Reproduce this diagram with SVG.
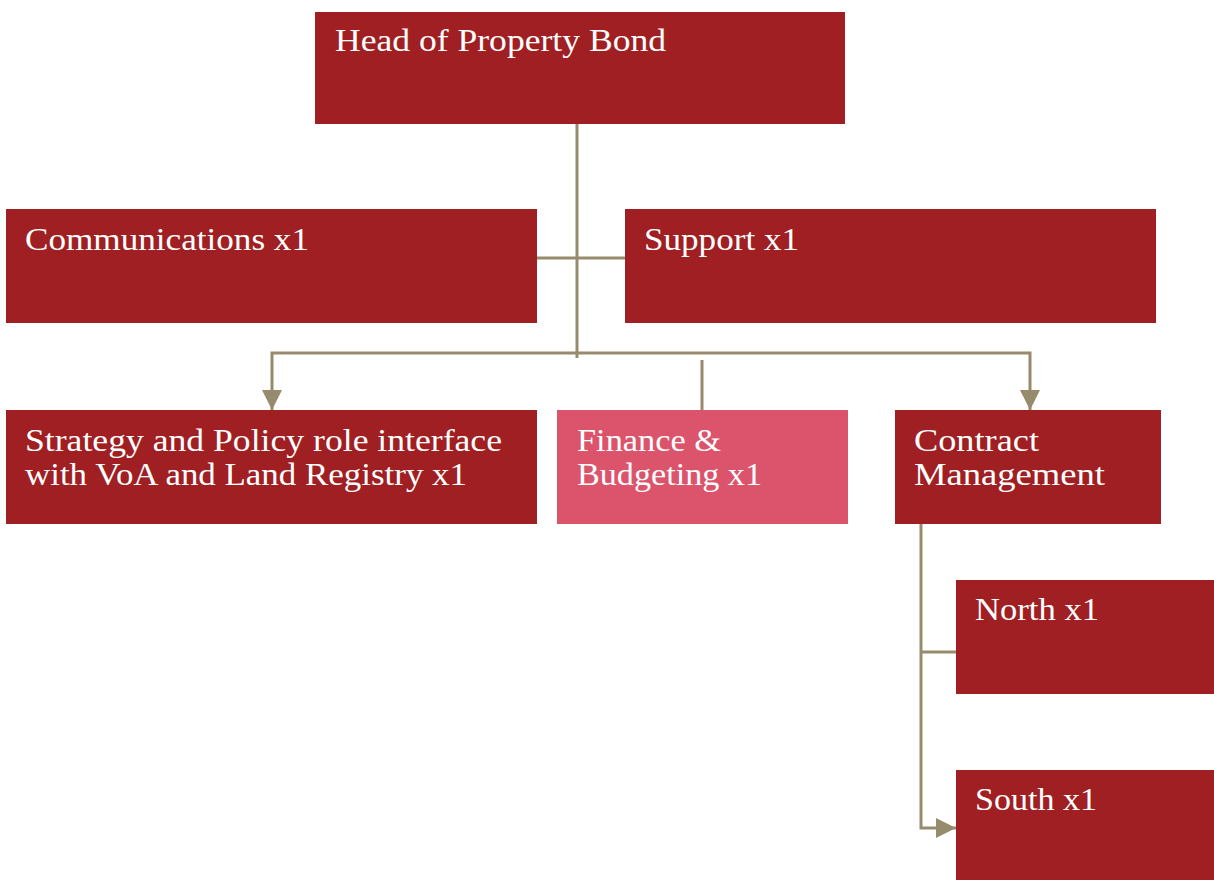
<svg xmlns="http://www.w3.org/2000/svg" width="1214" height="880" viewBox="0 0 1214 880">
  <defs>
    <style>
      .box { fill: #A01F22; }
      .box.alt { fill: #DB546B; }
      .lbl { font-family: "Liberation Serif", "DejaVu Serif", serif; font-size: 31px; fill: #FFFFFF; }
      .wire { fill: none; stroke: #968B6D; stroke-width: 3; }
    </style>
    <marker id="arrow" viewBox="0 0 10 10" refX="10" refY="5" markerWidth="6" markerHeight="6" markerUnits="userSpaceOnUse" orient="auto">
      <path d="M0,0 L10,5 L0,10 Z" fill="#968B6D"/>
    </marker>
    <marker id="arrowBig" viewBox="0 0 10 10" refX="10" refY="5" markerWidth="20" markerHeight="20" markerUnits="userSpaceOnUse" orient="auto">
      <path d="M0,0 L10,5 L0,10 Z" fill="#968B6D"/>
    </marker>
  </defs>

  <g id="connectors">
    <line class="wire" x1="577" y1="124" x2="577" y2="358"/>
    <line class="wire" x1="537" y1="258" x2="625" y2="258"/>
    <path class="wire" d="M577,353 H272 V410" marker-end="url(#arrowBig)"/>
    <path class="wire" d="M577,353 H1030 V410" marker-end="url(#arrowBig)"/>
    <line class="wire" x1="702" y1="360" x2="702" y2="410"/>
    <path class="wire" d="M921,524 V828 H956" marker-end="url(#arrowBig)"/>
    <line class="wire" x1="921" y1="652" x2="956" y2="652"/>
  </g>

  <g id="head">
    <rect class="box" x="315" y="12" width="530" height="112"/>
    <text class="lbl" x="335" y="51" textLength="331" lengthAdjust="spacingAndGlyphs">Head of Property Bond</text>
  </g>

  <g id="communications">
    <rect class="box" x="6" y="209" width="531" height="114"/>
    <text class="lbl" x="25" y="250" textLength="284" lengthAdjust="spacingAndGlyphs">Communications x1</text>
  </g>

  <g id="support">
    <rect class="box" x="625" y="209" width="531" height="114"/>
    <text class="lbl" x="644" y="250" textLength="155" lengthAdjust="spacingAndGlyphs">Support x1</text>
  </g>

  <g id="strategy">
    <rect class="box" x="6" y="410" width="531" height="114"/>
    <text class="lbl" x="25" y="451" textLength="477" lengthAdjust="spacingAndGlyphs">Strategy and Policy role interface</text>
    <text class="lbl" x="25" y="485" textLength="442" lengthAdjust="spacingAndGlyphs">with VoA and Land Registry x1</text>
  </g>

  <g id="finance">
    <rect class="box alt" x="557" y="410" width="291" height="114"/>
    <text class="lbl" x="577" y="451" textLength="144" lengthAdjust="spacingAndGlyphs">Finance &amp;</text>
    <text class="lbl" x="577" y="485" textLength="185" lengthAdjust="spacingAndGlyphs">Budgeting x1</text>
  </g>

  <g id="contract">
    <rect class="box" x="895" y="410" width="266" height="114"/>
    <text class="lbl" x="914" y="451" textLength="125" lengthAdjust="spacingAndGlyphs">Contract</text>
    <text class="lbl" x="914" y="485" textLength="191" lengthAdjust="spacingAndGlyphs">Management</text>
  </g>

  <g id="north">
    <rect class="box" x="956" y="580" width="258" height="114"/>
    <text class="lbl" x="975" y="620" textLength="124" lengthAdjust="spacingAndGlyphs">North x1</text>
  </g>

  <g id="south">
    <rect class="box" x="956" y="770" width="258" height="110"/>
    <text class="lbl" x="975" y="810" textLength="122" lengthAdjust="spacingAndGlyphs">South x1</text>
  </g>
</svg>
